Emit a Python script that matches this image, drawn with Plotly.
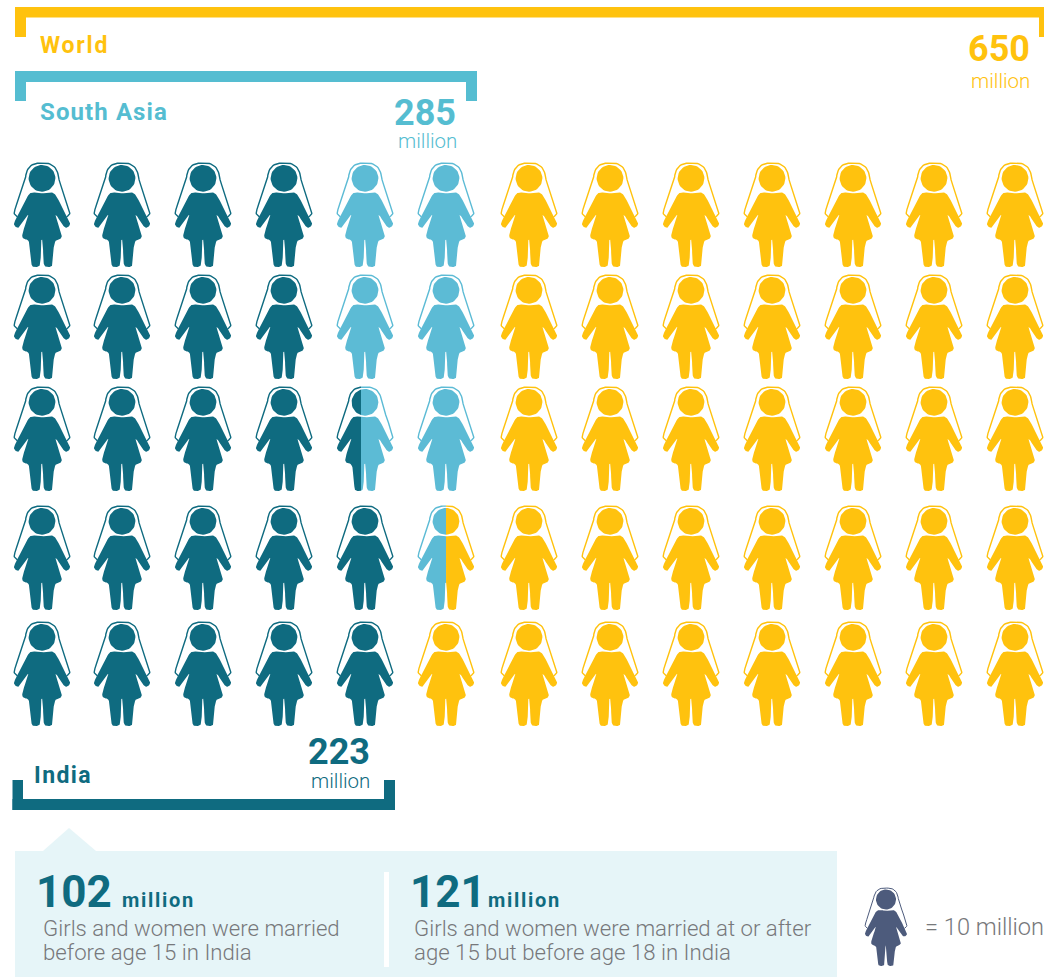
import numpy as np
import plotly.graph_objects as go

# ---------- data ----------
REGIONS = ["World", "South Asia", "India"]
TOTALS = ["650", "285", "223"]
UNIT = "million"
SPLIT_VALUES = ["102", "121"]
DESC_A = ["Girls and women were married", "before age 15 in India"]
DESC_B = ["Girls and women were married at or after", "age 15 but before age 18 in India"]
KEY_TEXT = "= 10 million"
# each letter is one icon (10 million): I India, S rest of South Asia, Y rest of the world
ICONS_LEFT = ["IIIISSYYYYYYY", "IIIISSYYYYYYY", "IIIIISYYYYYYY", "IIIIISYYYYYYY", "IIIIIYYYYYYYY"]
ICONS_RIGHT = ["IIIISSYYYYYYY", "IIIISSYYYYYYY", "IIIISSYYYYYYY", "IIIIIYYYYYYYY", "IIIIIYYYYYYYY"]

# ---------- layout & style ----------
W, H = 1044, 977
COL_X = [42, 122, 203, 284, 365, 446, 529, 610, 691, 772, 853, 934, 1015]
ROW_Y = [163, 275, 387, 506, 622]
COLORS = {"I": "#0F6B80", "S": "#5CBBD5", "Y": "#FFC20E"}
BRACKET = {"World": "#FFC20E", "South Asia": "#55BDD1", "India": "#0F6B80"}
GREY = "#77787B"
KEY = "#4D5B7C"
FONT = "Roboto"


def chaikin(pts, n=3, closed=True):
    p = np.array(pts, float)
    for _ in range(n):
        if closed:
            q = np.roll(p, -1, axis=0)
            p = np.stack([0.75 * p + 0.25 * q, 0.25 * p + 0.75 * q], 1).reshape(-1, 2)
        else:
            a, b = p[:-1], p[1:]
            mid = np.stack([0.75 * a + 0.25 * b, 0.25 * a + 0.75 * b], 1).reshape(-1, 2)
            p = np.vstack([p[:1], mid, p[-1:]])
    return p


half = [(0, 30.5), (4, 29.8), (7.5, 29.3), (12, 29.8), (15, 34), (26.5, 56.5), (28.8, 62), (24, 65.5),
        (20.5, 62), (11.5, 47.5), (20, 70.5), (19.5, 76), (12, 77), (10.8, 100), (9.8, 104),
        (3, 104), (1.3, 100), (0.9, 76.7), (0, 76.7)]
mirror = [(-x, y) for x, y in reversed(half[1:-1])]
BODY = chaikin(half + mirror, 3)
t = np.linspace(0, 2 * np.pi, 49)[:-1]
HEAD = np.column_stack([13.4 * np.cos(t), 15.3 + 13.4 * np.sin(t)])
vh = [(0, 0), (7.5, 0.4), (13, 4), (16, 10), (16.5, 16), (27.8, 48), (27.8, 51.5), (24.5, 54)]
VEIL = chaikin([(-x, y) for x, y in reversed(vh[1:])] + vh, 2, closed=False)


def clip_poly(p, split, keep_left):
    out = []
    n = len(p)
    inside = (lambda v: v[0] <= split) if keep_left else (lambda v: v[0] >= split)
    for i in range(n):
        a, b = p[i], p[(i + 1) % n]
        ia, ib = inside(a), inside(b)
        if ia:
            out.append(tuple(a))
        if ia != ib:
            u = (split - a[0]) / (b[0] - a[0])
            out.append((split, a[1] + u * (b[1] - a[1])))
    return np.array(out)


def clip_line(p, split, keep_left):
    out = []
    for i in range(len(p)):
        ok = p[i][0] <= split if keep_left else p[i][0] >= split
        if ok:
            out.append(tuple(p[i]))
        if i < len(p) - 1:
            nxt = p[i + 1][0] <= split if keep_left else p[i + 1][0] >= split
            if ok != nxt:
                u = (split - p[i][0]) / (p[i + 1][0] - p[i][0])
                out.append((split, p[i][1] + u * (p[i + 1][1] - p[i][1])))
    return np.array(out)


fills = {k: ([], []) for k in list(COLORS) + ["K"]}
lines = {k: ([], []) for k in list(COLORS) + ["K"]}


def add(store, key, pts, cx, cy, s=1.0, closed=True):
    xs, ys = store[key]
    xs.extend((cx + s * pts[:, 0]).tolist())
    ys.extend((cy + s * pts[:, 1]).tolist())
    if closed:
        xs.append(cx + s * pts[0, 0])
        ys.append(cy + s * pts[0, 1])
    xs.append(None)
    ys.append(None)


def icon(cx, cy, left, right, split=0.0, s=1.0):
    if left == right:
        add(fills, left, BODY, cx, cy, s)
        add(fills, left, HEAD, cx, cy, s)
        add(lines, left, VEIL, cx, cy, s, False)
    else:
        for key, kl in ((left, True), (right, False)):
            add(fills, key, clip_poly(BODY, split, kl), cx, cy, s)
            add(fills, key, clip_poly(HEAD, split, kl), cx, cy, s)
            add(lines, key, clip_line(VEIL, split, kl), cx, cy, s, False)


for r, y in enumerate(ROW_Y):
    for c, x in enumerate(COL_X):
        lf, rt = ICONS_LEFT[r][c], ICONS_RIGHT[r][c]
        icon(x, y, lf, rt, -4.0 if lf == "I" and rt == "S" else 0.0)
icon(886, 888, "K", "K", s=0.75)

fig = go.Figure()
palette = dict(COLORS, K=KEY)
for k, col in palette.items():
    fig.add_trace(go.Scatter(x=lines[k][0], y=lines[k][1], mode="lines",
                             line=dict(color=col, width=1.0 if k == "K" else 1.4),
                             hoverinfo="skip", showlegend=False))
    fig.add_trace(go.Scatter(x=fills[k][0], y=fills[k][1], mode="lines", fill="toself",
                             fillcolor=col, line=dict(width=0), hoverinfo="skip", showlegend=False))

shapes = []


def rect(x0, y0, x1, y1, c):
    shapes.append(dict(type="rect", x0=x0, y0=y0, x1=x1, y1=y1, fillcolor=c, line_width=0, layer="below"))


c = BRACKET["World"]
rect(15, 7, 1050, 17.5, c); rect(15, 7, 26, 37, c); rect(1039, 7, 1050, 37, c)
c = BRACKET["South Asia"]
rect(15, 71, 477, 82, c); rect(15, 71, 26, 101, c); rect(466, 71, 477, 101, c)
c = BRACKET["India"]
rect(12.5, 799, 395, 810, c); rect(12.5, 780, 23, 810, c); rect(384, 780, 395, 810, c)
rect(15, 851, 837, 977, "#E6F5F8")
shapes.append(dict(type="path", path="M 43 851 L 69 828 L 96 851 Z", fillcolor="#E6F5F8", line_width=0, layer="below"))
rect(384, 872, 389, 967, "#FFFFFF")


def txt(x, y, s, size, color, weight=400, anchor="left"):
    fig.add_annotation(x=x, y=y, text=s, showarrow=False, xanchor=anchor, yanchor="middle", align="left",
                       borderpad=0, borderwidth=0,
                       font=dict(family=FONT, size=size, color=color, weight=weight))


txt(40, 45, REGIONS[0], 23, COLORS["Y"], 700)
txt(1030, 49, TOTALS[0], 36, COLORS["Y"], 700, "right")
txt(1030, 81, UNIT, 20.5, COLORS["Y"], 300, "right")
txt(40, 112, REGIONS[1], 24, BRACKET["South Asia"], 700)
txt(456, 113, TOTALS[1], 36, BRACKET["South Asia"], 700, "right")
txt(457, 141, UNIT, 20.5, BRACKET["South Asia"], 300, "right")
txt(34, 775, REGIONS[2], 23, BRACKET["India"], 700)
txt(370, 752, TOTALS[2], 36, BRACKET["India"], 700, "right")
txt(370, 781, UNIT, 20.5, BRACKET["India"], 300, "right")
txt(36, 892, SPLIT_VALUES[0], 44, BRACKET["India"], 700)
txt(122, 900, UNIT, 20, BRACKET["India"], 700)
txt(410, 892, SPLIT_VALUES[1], 44, BRACKET["India"], 700)
txt(488, 900, UNIT, 20, BRACKET["India"], 700)
txt(43, 928, DESC_A[0], 22.2, GREY, 300)
txt(43, 952, DESC_A[1], 22.2, GREY, 300)
txt(414, 928, DESC_B[0], 22.2, GREY, 300)
txt(414, 952, DESC_B[1], 22.2, GREY, 300)
txt(925, 927, KEY_TEXT, 23.6, GREY, 300)

fig.update_layout(width=W, height=H, margin=dict(l=0, r=0, t=0, b=0), paper_bgcolor="white",
                  plot_bgcolor="white", shapes=shapes, showlegend=False,
                  xaxis=dict(range=[0, W], visible=False, fixedrange=True),
                  yaxis=dict(range=[H, 0], visible=False, fixedrange=True))

# page margin off; the reference's headings are letter-spaced
POST = """
document.body.style.margin = '0';
document.documentElement.style.overflow = 'hidden';
var spaced = {'World': 1.8, 'South Asia': 1.1, 'India': 1.4};
document.querySelectorAll('.annotation-text').forEach(function (t) {
  var s = t.textContent;
  var bold = /700/.test(t.style.fontWeight) || t.style.fontWeight === 'bold';
  if (spaced[s]) t.style.letterSpacing = spaced[s] + 'px';
  if (s === 'million' && bold) t.style.letterSpacing = '1.7px';
});
"""
fig.write_html("out.html", config=dict(displayModeBar=False), post_script=POST)
